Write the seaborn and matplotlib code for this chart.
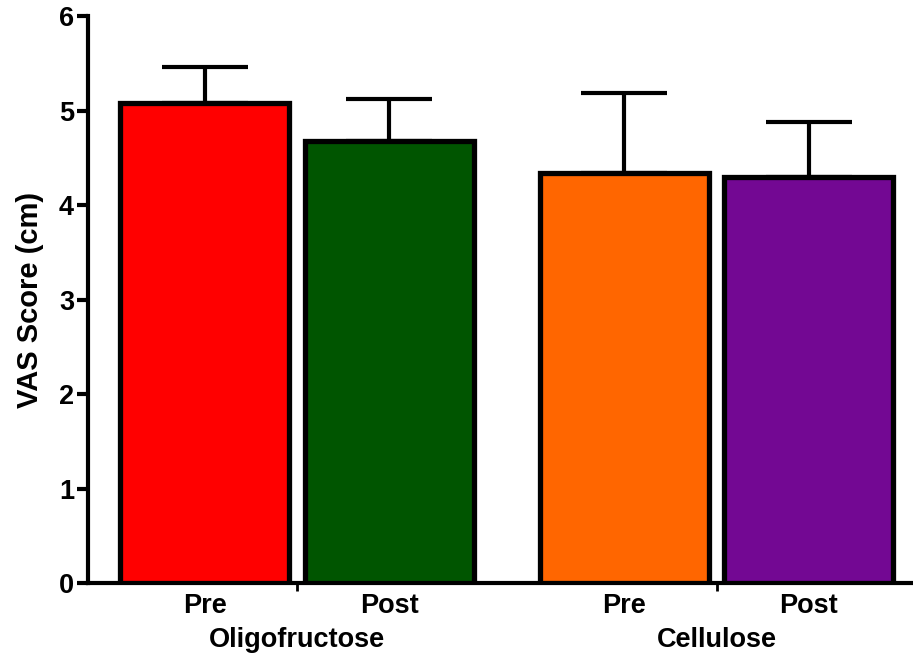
import matplotlib
matplotlib.use("Agg")
import matplotlib.pyplot as plt
import seaborn as sns
import pandas as pd
import numpy as np

groups = ["Oligofructose", "Oligofructose", "Cellulose", "Cellulose"]
phases = ["Pre", "Post", "Pre", "Post"]
means = [5.08, 4.68, 4.34, 4.30]
sems = [0.38, 0.44, 0.85, 0.58]
bar_colors = ["#FF0000", "#005500", "#FF6600", "#730893"]
group_order = ["Oligofructose", "Cellulose"]
phase_order = ["Pre", "Post"]
yticks = [0, 1, 2, 3, 4, 5, 6]

df = pd.DataFrame({"group": groups, "phase": phases, "mean": means})

sns.set_style("ticks")
plt.rcParams["font.family"] = ["Liberation Sans", "DejaVu Sans"]
plt.rcParams["font.weight"] = "bold"
plt.rcParams["text.color"] = "black"
plt.rcParams["axes.labelcolor"] = "black"
plt.rcParams["axes.edgecolor"] = "black"
plt.rcParams["xtick.color"] = "black"
plt.rcParams["ytick.color"] = "black"

fig = plt.figure(figsize=(9.13, 6.57), dpi=100)
ax = fig.add_axes([0.0964, 0.1126, 0.9036, 0.8630])

sns.barplot(data=df, x="group", y="mean", hue="phase", order=group_order,
            hue_order=phase_order, palette=bar_colors[:2], width=0.88, gap=0.085,
            edgecolor="black", linewidth=3.8, errorbar=None, legend=False,
            saturation=1, ax=ax)

bars = sorted(ax.patches, key=lambda p: p.get_x())
centers = []
for p, c in zip(bars, bar_colors):
    p.set_facecolor(c)
    p.set_zorder(3)
    centers.append(p.get_x() + p.get_width() / 2)

ax.errorbar(centers, means, yerr=[np.zeros(len(means)), sems], fmt="none",
            ecolor="black", elinewidth=3, capsize=31, capthick=3, zorder=2)

for xc, ph in zip(centers, phases):
    ax.annotate(ph, xy=(xc, 0), xycoords=("data", "axes fraction"),
                xytext=(0, -16.5), textcoords="offset points", ha="center",
                va="center", fontsize=19.5, fontweight="bold", color="black")

ax.set_xlim(-0.498, 1.468)
ax.set_ylim(0, 6)
ax.set_yticks(yticks)
ax.set_yticklabels([str(t) for t in yticks], fontsize=19.5, fontweight="bold")
ax.set_xticks([0, 1])
ax.set_xticklabels(group_order, fontsize=19.5, fontweight="bold")
ax.tick_params(axis="x", length=6, width=2, pad=26, colors="black")
ax.tick_params(axis="y", length=8, width=3, pad=2, colors="black")
ax.set_xlabel("")
ax.set_ylabel("VAS Score (cm)", fontsize=21, fontweight="bold", labelpad=11)
for s in ["top", "right"]:
    ax.spines[s].set_visible(False)
for s in ["left", "bottom"]:
    ax.spines[s].set_linewidth(3)
    ax.spines[s].set_color("black")

fig.savefig("out.png", dpi=100)
